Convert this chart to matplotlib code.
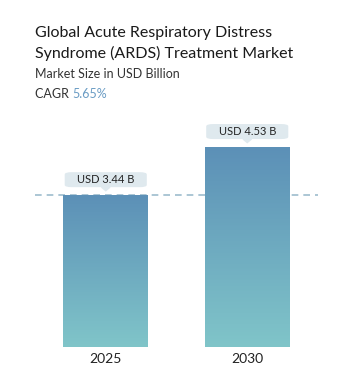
import matplotlib.pyplot as plt
import numpy as np
from matplotlib.patches import FancyBboxPatch

years = ['2025', '2030']
values = [3.44, 4.53]
labels = ['USD 3.44 B', 'USD 4.53 B']
cagr = '5.65%'

plt.rcParams['font.family'] = ['Lato', 'DejaVu Sans']

fig = plt.figure(figsize=(3.64, 3.82), dpi=100)
W, H = 364, 382
ax = fig.add_axes([35 / W, 1 - 347 / H, 283 / W, 237 / H])
ax.set_xlim(-0.5, 1.5)
ax.set_ylim(0, 237 / 44.15)
ax.axis('off')

x = np.arange(len(years))
bw = 0.6
bars = ax.bar(x, values, width=bw, color='none')

# vertical gradient inside each bar, top to bottom
grad = np.linspace(0, 1, 256).reshape(-1, 1)
top_c = np.array([0x5c, 0x90, 0xb7]) / 255
bot_c = np.array([0x80, 0xc5, 0xc9]) / 255
img = top_c * (1 - grad[..., None]) + bot_c * grad[..., None]
img = img.reshape(256, 1, 3)
for b in bars:
    x0 = b.get_x()
    im = ax.imshow(img, extent=[x0, x0 + b.get_width(), 0, b.get_height()],
                   aspect='auto', origin='upper', zorder=1)
    im.set_clip_path(b)

ax.axhline(values[0], xmin=0, xmax=1, color='#9dbccd', lw=1.2,
           ls=(0, (4, 3)), zorder=0)

# value labels with callout box
for xi, v, lab in zip(x, values, labels):
    yb = v + 0.18
    ax.text(xi, yb + 0.17, lab, ha='center', va='center', fontsize=8,
            color='#222222', zorder=4)
    box = FancyBboxPatch((xi - 0.29, yb), 0.58, 0.34,
                         boxstyle='round,pad=0,rounding_size=0.05',
                         fc='#dfe9ee', ec='none', zorder=3)
    ax.add_patch(box)
    ax.fill([xi - 0.03, xi + 0.03, xi], [yb, yb, yb - 0.08],
            color='#dfe9ee', zorder=3)

for xi, yr in zip(x, years):
    ax.text(xi, -0.28, yr, ha='center', va='center', fontsize=10,
            color='#222222', clip_on=False)

fig.text(35 / W, 1 - 33 / H, 'Global Acute Respiratory Distress',
         fontsize=11.5, color='#1a1a1a', va='center', ha='left')
fig.text(35 / W, 1 - 53 / H, 'Syndrome (ARDS) Treatment Market',
         fontsize=11.5, color='#1a1a1a', va='center', ha='left')
fig.text(35 / W, 1 - 74 / H, 'Market Size in USD Billion',
         fontsize=9, color='#333333', va='center', ha='left')
t = fig.text(35 / W, 1 - 94 / H, 'CAGR ', fontsize=9, color='#333333',
             va='center', ha='left')
fig.canvas.draw()
bb = t.get_window_extent()
fig.text(bb.x1 / W, 1 - 94 / H, cagr, fontsize=9, color='#6a9cc4',
         va='center', ha='left')

fig.savefig('out.png', dpi=100)
